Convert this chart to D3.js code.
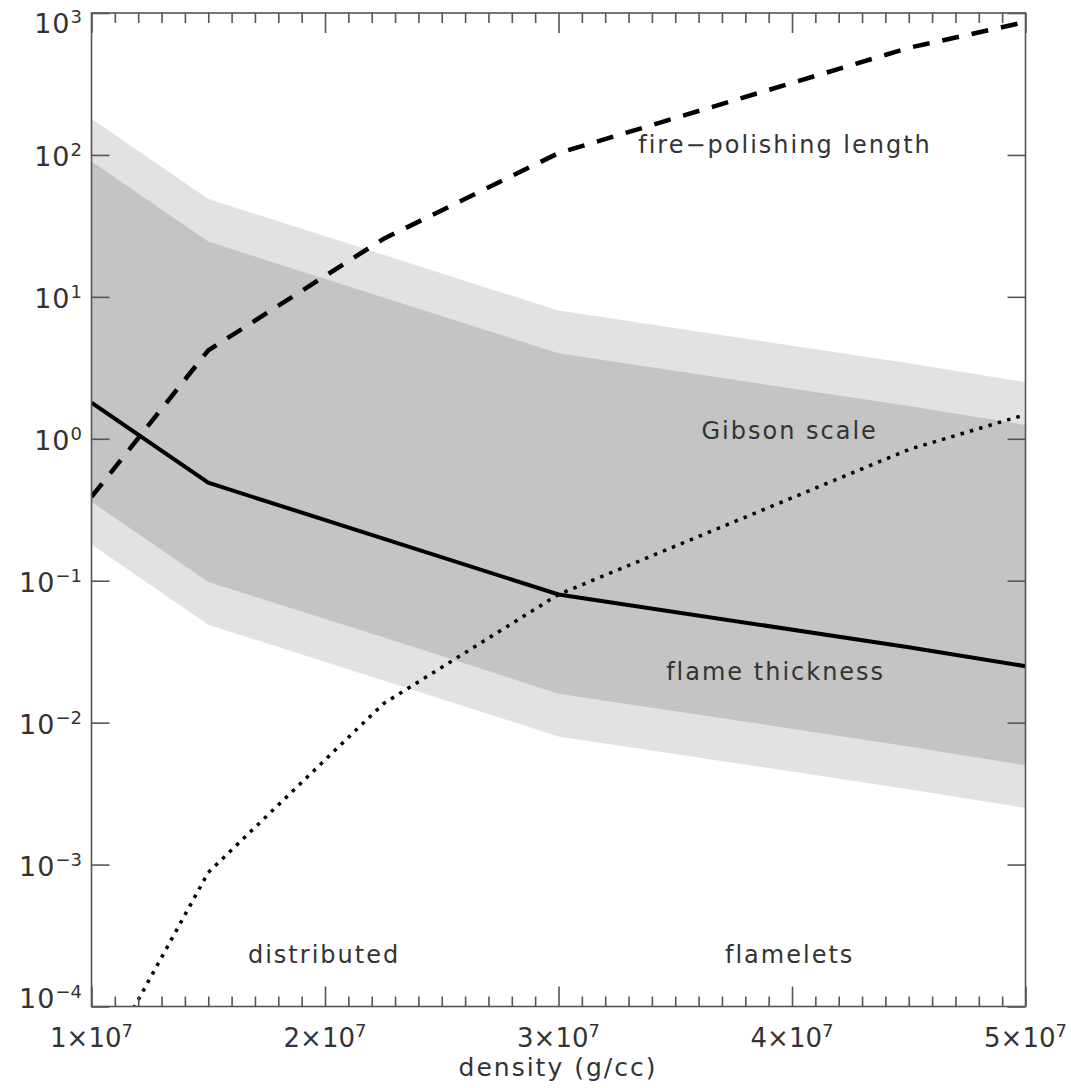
<!DOCTYPE html>
<html><head><meta charset="utf-8">
<script src="https://cdn.jsdelivr.net/npm/d3@7"></script>
<style>
html,body{margin:0;padding:0;background:#fff;}
svg{display:block;font-family:"DejaVu Sans",sans-serif;}
</style></head>
<body>
<script>
// ---- data ----
const density = [1e7, 1.5e7, 2.25e7, 3e7, 4.5e7, 5e7];
const flameThickness = [1.8, 0.49, 0.198, 0.080, 0.034, 0.025];
const gibsonDarkTop = [90, 24.5, 9.9, 4.0, 1.7, 1.25];
const gibsonDarkBottom = [0.36, 0.098, 0.040, 0.016, 0.0068, 0.005];
const gibsonLightTop = [180, 49, 19.8, 8.0, 3.4, 2.5];
const gibsonLightBottom = [0.18, 0.049, 0.0198, 0.008, 0.0034, 0.0025];
const firePolishing = [0.39, 4.2, 25.6, 103, 568, 864];
const dottedCurve = [2.8e-5, 8.8e-4, 0.0136, 0.080, 0.84, 1.48];
const xTickValues = [1e7, 2e7, 3e7, 4e7, 5e7];
const xTickMant = ["1", "2", "3", "4", "5"];
const yTickExp = [-4, -3, -2, -1, 0, 1, 2, 3];
const annotations = [
  {text: "fire\u2212polishing length", x: 3.97e7, y: 103},
  {text: "Gibson scale", x: 3.99e7, y: 1.0},
  {text: "flame thickness", x: 3.93e7, y: 0.0201},
  {text: "distributed", x: 1.996e7, y: 2.04e-4},
  {text: "flamelets", x: 3.99e7, y: 2.04e-4}
];

const W = 1071, H = 1088;
const m = {left: 91.5, right: 1025.5, top: 13, bottom: 1006.5};
const svg = d3.select("body").append("svg").attr("width", W).attr("height", H);

const x = d3.scaleLinear().domain([1e7, 5e7]).range([m.left, m.right]);
const y = d3.scaleLog().domain([1e-4, 1e3]).range([m.bottom, m.top]);

svg.append("clipPath").attr("id", "clip").append("rect")
  .attr("x", m.left).attr("y", m.top).attr("width", m.right - m.left).attr("height", m.bottom - m.top);

const g = svg.append("g").attr("clip-path", "url(#clip)");

const idx = d3.range(density.length);
const area = (lo, hi) => d3.area().x(i => x(density[i])).y0(i => y(lo[i])).y1(i => y(hi[i]));
g.append("path").attr("d", area(gibsonLightBottom, gibsonLightTop)(idx)).attr("fill", "#e2e2e2");
g.append("path").attr("d", area(gibsonDarkBottom, gibsonDarkTop)(idx)).attr("fill", "#c4c4c4");

const line = arr => d3.line().x(i => x(density[i])).y(i => y(arr[i]))(idx);
g.append("path").attr("d", line(flameThickness)).attr("fill", "none").attr("stroke", "#000").attr("stroke-width", 4);
g.append("path").attr("d", line(firePolishing)).attr("fill", "none").attr("stroke", "#000").attr("stroke-width", 4.5)
  .attr("stroke-dasharray", "17,13");
g.append("path").attr("d", line(dottedCurve)).attr("fill", "none").attr("stroke", "#000").attr("stroke-width", 3.5)
  .attr("stroke-dasharray", "3.5,6.2");

// axes frame
const axisColor = "#555";
const frame = svg.append("g").attr("stroke", axisColor).attr("stroke-width", 1.6).attr("fill", "none");
frame.append("rect").attr("x", m.left).attr("y", m.top).attr("width", m.right - m.left).attr("height", m.bottom - m.top);

// x ticks (bottom and top, inward)
const minor = d3.range(1e7, 5e7 + 1, 1e6);
const xBottom = d3.axisBottom(x).tickValues(minor).tickSizeInner(-10).tickSizeOuter(0).tickFormat("");
const xTop = d3.axisTop(x).tickValues(minor).tickSizeInner(-10).tickSizeOuter(0).tickFormat("");
[[xBottom, m.bottom, -1], [xTop, m.top, 1]].forEach(([ax, ty, dir]) => {
  const ga = svg.append("g").attr("transform", `translate(0,${ty})`).call(ax);
  ga.select(".domain").remove();
  ga.selectAll(".tick line").attr("stroke", axisColor).attr("stroke-width", 1.6)
    .attr("y2", d => (xTickValues.some(v => Math.abs(v - d) < 1) ? 20 : 10) * dir);
});
// y ticks (left and right, inward)
const yVals = yTickExp.map(e => Math.pow(10, e));
[[d3.axisLeft(y), m.left, 1], [d3.axisRight(y), m.right, -1]].forEach(([ax, tx, dir]) => {
  const ga = svg.append("g").attr("transform", `translate(${tx},0)`)
    .call(ax.tickValues(yVals).tickSizeInner(-18).tickSizeOuter(0).tickFormat(""));
  ga.select(".domain").remove();
  ga.selectAll(".tick line").attr("stroke", axisColor).attr("stroke-width", 1.6).attr("x2", 18 * dir);
});

// tick labels
const labColor = "#333";
xTickValues.forEach((v, i) => {
  const t = svg.append("text").attr("x", x(v)).attr("y", 1047).attr("text-anchor", "middle")
    .attr("fill", labColor).attr("font-size", 26);
  t.append("tspan").text(xTickMant[i] + "\u00d710");
  t.append("tspan").attr("dy", -10).attr("font-size", 18).text("7");
});
yTickExp.forEach((e, i) => {
  const off = i === 0 ? 1 : (i === yTickExp.length - 1 ? 20 : 11);
  const t = svg.append("text").attr("x", 82).attr("y", y(Math.pow(10, e)) + off).attr("text-anchor", "end")
    .attr("fill", labColor).attr("font-size", 27).attr("letter-spacing", 1);
  t.append("tspan").text("10");
  t.append("tspan").attr("dy", -10).attr("font-size", 18).attr("letter-spacing", 0).text(e < 0 ? "\u2212" + (-e) : String(e));
});

svg.append("text").attr("x", 558).attr("y", 1076).attr("text-anchor", "middle")
  .attr("fill", labColor).attr("font-size", 25).attr("letter-spacing", 2).text("density (g/cc)");

annotations.forEach(a => {
  svg.append("text").attr("x", x(a.x)).attr("y", y(a.y)).attr("text-anchor", "middle")
    .attr("fill", labColor).attr("font-size", 24).attr("letter-spacing", 2).text(a.text);
});
</script>
</body></html>
